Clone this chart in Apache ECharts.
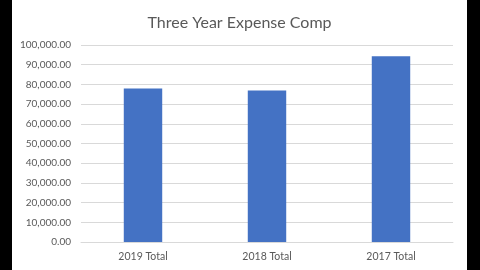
<!DOCTYPE html>
<html><head><meta charset="utf-8">
<script src="https://cdn.jsdelivr.net/npm/echarts@6/dist/echarts.min.js"></script>
<style>
html,body{margin:0;padding:0;background:#000;width:480px;height:270px;overflow:hidden}
#c{position:absolute;left:12px;top:0;width:455px;height:270px;background:#fff}
</style></head>
<body><div id="c"></div>
<script>
const titleText = "Three Year Expense Comp";
const categories = ["2019 Total", "2018 Total", "2017 Total"];
const values = [77900, 76900, 94300];
const chart = echarts.init(document.getElementById('c'));
chart.setOption({
  animation:false,
  backgroundColor:'#fff',
  title:{text:titleText,left:'center',top:10,textStyle:{fontFamily:'Lato',fontWeight:'normal',fontSize:16,color:'#595959'}},
  grid:{left:69,right:14,top:45,bottom:28},
  xAxis:{type:'category',data:categories,axisTick:{show:false},
    axisLine:{lineStyle:{color:'#d9d9d9'}},
    axisLabel:{color:'#595959',fontFamily:'Lato',fontSize:10.5,margin:9}},
  yAxis:{type:'value',min:0,max:100000,interval:10000,
    axisLabel:{color:'#595959',fontFamily:'Lato',fontSize:10,margin:10,
      formatter:v=>v.toLocaleString('en-US',{minimumFractionDigits:2,maximumFractionDigits:2})},
    splitLine:{lineStyle:{color:'#d9d9d9'}}},
  series:[{type:'bar',data:values,barWidth:'31%',itemStyle:{color:'#4472C4'}}]
});
</script></body></html>
